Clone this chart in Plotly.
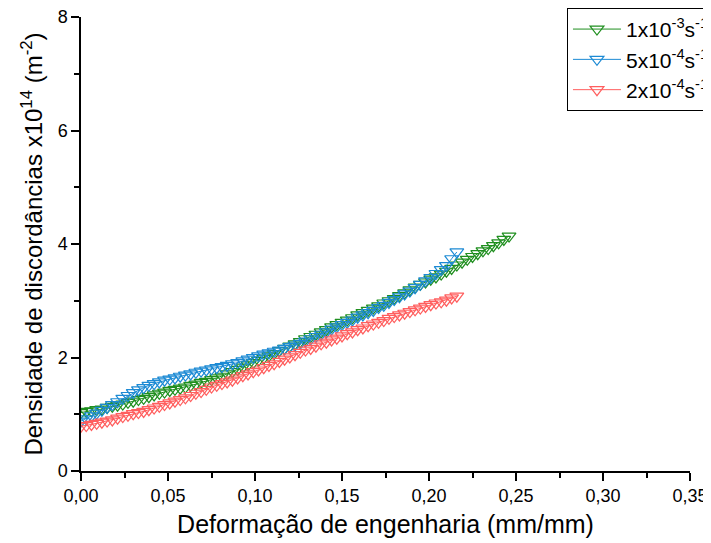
import plotly.graph_objects as go

# Shared strain grid (mm/mm)
strain = [0.000, 0.003, 0.006, 0.009, 0.012, 0.015, 0.018, 0.021, 0.024, 0.027,
          0.030, 0.033, 0.036, 0.039, 0.042, 0.045, 0.048, 0.051, 0.054, 0.057,
          0.060, 0.063, 0.066, 0.069, 0.072, 0.075, 0.078, 0.081, 0.084, 0.087,
          0.090, 0.093, 0.096, 0.099, 0.102, 0.105, 0.108, 0.111, 0.114, 0.117,
          0.120, 0.123, 0.126, 0.129, 0.132, 0.135, 0.138, 0.141, 0.144, 0.147,
          0.150, 0.153, 0.156, 0.159, 0.162, 0.165, 0.168, 0.171, 0.174, 0.177,
          0.180, 0.183, 0.186, 0.189, 0.192, 0.195, 0.198, 0.201, 0.204, 0.207,
          0.210, 0.213, 0.216, 0.219, 0.222, 0.225, 0.228, 0.231, 0.234, 0.237,
          0.240, 0.243, 0.246]

# Dislocation density x10^14 (m^-2)
rho_1e3 = [1.03, 1.05, 1.06, 1.08, 1.09, 1.12, 1.14, 1.16, 1.18, 1.21,
           1.23, 1.26, 1.28, 1.31, 1.34, 1.37, 1.39, 1.42, 1.44, 1.46,
           1.48, 1.51, 1.53, 1.56, 1.58, 1.61, 1.64, 1.67, 1.71, 1.75,
           1.79, 1.83, 1.87, 1.91, 1.95, 1.99, 2.03, 2.07, 2.12, 2.16,
           2.20, 2.24, 2.28, 2.33, 2.37, 2.41, 2.45, 2.49, 2.54, 2.58,
           2.62, 2.66, 2.70, 2.75, 2.79, 2.83, 2.87, 2.91, 2.96, 3.00,
           3.04, 3.09, 3.14, 3.19, 3.24, 3.29, 3.33, 3.38, 3.42, 3.47,
           3.52, 3.57, 3.63, 3.68, 3.73, 3.78, 3.83, 3.88, 3.92, 3.97,
           4.02, 4.08, 4.14]

rho_5e4 = [0.88, 0.92, 0.97, 1.02, 1.07, 1.12, 1.17, 1.22, 1.28, 1.33,
           1.38, 1.43, 1.47, 1.51, 1.54, 1.57, 1.60, 1.62, 1.64, 1.67,
           1.69, 1.71, 1.74, 1.76, 1.78, 1.80, 1.82, 1.84, 1.86, 1.89,
           1.91, 1.94, 1.97, 2.00, 2.03, 2.06, 2.08, 2.11, 2.13, 2.16,
           2.19, 2.22, 2.25, 2.29, 2.33, 2.37, 2.41, 2.45, 2.50, 2.54,
           2.58, 2.62, 2.66, 2.71, 2.75, 2.79, 2.83, 2.88, 2.92, 2.97,
           3.02, 3.07, 3.12, 3.17, 3.23, 3.29, 3.35, 3.41, 3.48, 3.55,
           3.62, 3.74, 3.86]

rho_2e4 = [0.79, 0.80, 0.82, 0.84, 0.86, 0.88, 0.90, 0.93, 0.96, 0.98,
           1.01, 1.03, 1.05, 1.08, 1.11, 1.14, 1.17, 1.20, 1.23, 1.26,
           1.29, 1.33, 1.37, 1.40, 1.44, 1.48, 1.51, 1.54, 1.57, 1.60,
           1.64, 1.68, 1.71, 1.75, 1.78, 1.82, 1.86, 1.89, 1.93, 1.97,
           2.01, 2.05, 2.09, 2.13, 2.16, 2.20, 2.24, 2.27, 2.31, 2.34,
           2.38, 2.42, 2.45, 2.49, 2.52, 2.56, 2.59, 2.62, 2.65, 2.69,
           2.72, 2.75, 2.78, 2.81, 2.84, 2.87, 2.90, 2.93, 2.96, 2.98,
           3.01, 3.05, 3.08]

series_names = ["1x10<sup>-3</sup>s<sup>-1</sup>",
                "5x10<sup>-4</sup>s<sup>-1</sup>",
                "2x10<sup>-4</sup>s<sup>-1</sup>"]
series_values = [rho_1e3, rho_5e4, rho_2e4]
colors = ["#1F8F1F", "#1C8AD4", "#FF5E5E"]

x_ticks = [0.00, 0.05, 0.10, 0.15, 0.20, 0.25, 0.30, 0.35]
y_ticks = [0, 2, 4, 6, 8]

FONT = "Liberation Sans, Arial, sans-serif"

fig = go.Figure()
for name, vals, col in zip(series_names, series_values, colors):
    fig.add_trace(go.Scatter(
        x=strain[:len(vals)], y=vals, name=name,
        mode="lines+markers",
        line=dict(color=col, width=1),
        marker=dict(symbol="triangle-down-open", size=12, color=col,
                    line=dict(color=col, width=1.2)),
    ))

fig.update_layout(
    width=711, height=543,
    margin=dict(l=73, r=29, t=9, b=80, autoexpand=False),
    paper_bgcolor="white", plot_bgcolor="white",
    separators=",.",
    font=dict(family=FONT, color="black", size=19),
    showlegend=True,
    legend=dict(
        x=0.798, y=1.02, xanchor="left", yanchor="top",
        bordercolor="black", borderwidth=1, bgcolor="white",
        font=dict(family=FONT, size=21, color="black"),
        tracegroupgap=0, itemwidth=48,
    ),
)

fig.update_xaxes(
    range=[0, 0.35], tickvals=x_ticks, tickformat=".2f",
    showline=True, linecolor="black", linewidth=1.5, mirror=False,
    showgrid=False, zeroline=False, ticklabeloverflow="allow",
    ticks="outside", ticklen=8, tickwidth=1.5, tickcolor="black",
    tickfont=dict(family=FONT, size=18, color="black"),
    minor=dict(ticks="outside", ticklen=5, tickwidth=1.5, tickcolor="black",
               dtick=0.025, showgrid=False),
    title=dict(text="Deformação de engenharia (mm/mm)",
               font=dict(family=FONT, size=25, color="black"), standoff=10),
)
fig.update_yaxes(
    range=[0, 8], tickvals=y_ticks,
    showline=True, linecolor="black", linewidth=1.5, mirror=False,
    showgrid=False, zeroline=False, ticklabeloverflow="allow",
    ticks="outside", ticklen=8, tickwidth=1.5, tickcolor="black",
    tickfont=dict(family=FONT, size=18, color="black"),
    minor=dict(ticks="outside", ticklen=5, tickwidth=1.5, tickcolor="black",
               dtick=1, showgrid=False),
    title=dict(text="Densidade de discordâncias x10<sup>14</sup> (m<sup>-2</sup>)",
               font=dict(family=FONT, size=24, color="black"), standoff=8),
)

fig.write_html("out.html")
